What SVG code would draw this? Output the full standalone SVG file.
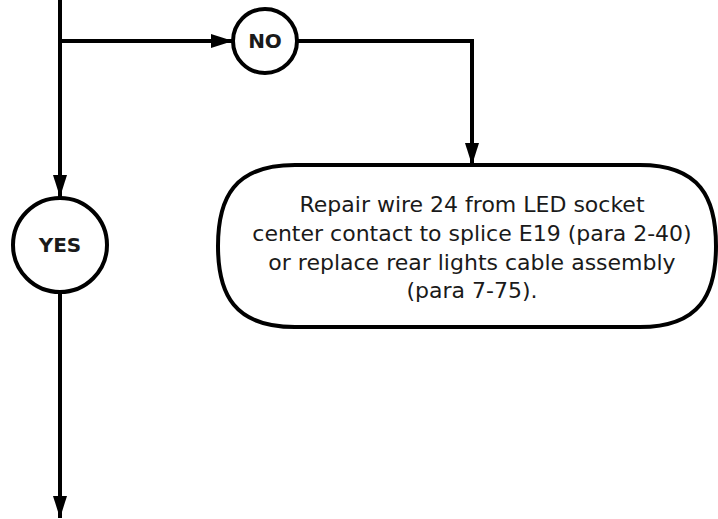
<svg xmlns="http://www.w3.org/2000/svg" width="718" height="519" viewBox="0 0 718 519">
<style>
.ln{fill:none;stroke:#000;stroke-width:4}
.nd{fill:#fff;stroke:#000;stroke-width:4}
.lb{font-family:"DejaVu Sans","Liberation Sans",sans-serif;font-weight:bold;font-size:20px;text-anchor:middle;fill:#1a1a1a}
.tx{font-family:"DejaVu Sans","Liberation Sans",sans-serif;font-size:22px;text-anchor:middle;fill:#1a1a1a}
</style>
<defs>
<marker id="ah" markerUnits="userSpaceOnUse" markerWidth="22" markerHeight="14" refX="22" refY="7" orient="auto">
<path d="M0,0 L22,7 L0,14 Z" fill="#000"/>
</marker>
</defs>
<g id="connectors">
<path class="ln" d="M60,0 V197" marker-end="url(#ah)"/>
<path class="ln" d="M60,41 H233" marker-end="url(#ah)"/>
<path class="ln" d="M297,41 H472 V165" marker-end="url(#ah)"/>
<path class="ln" d="M60,292 V518" marker-end="url(#ah)"/>
</g>
<g id="no">
<circle class="nd" cx="265" cy="41" r="32"/>
<text class="lb" x="265" y="48">NO</text>
</g>
<g id="yes">
<circle class="nd" cx="60" cy="245" r="47"/>
<text class="lb" x="60" y="252">YES</text>
</g>
<g id="repair">
<path class="nd" d="M295,165 H640 C700,165 716,198 716,246 C716,294 700,327 640,327 H295 C234,327 218,294 218,246 C218,198 234,165 295,165 Z"/>
<text class="tx" x="472" y="212">Repair wire 24 from LED socket</text>
<text class="tx" x="472" y="241">center contact to splice E19 (para 2-40)</text>
<text class="tx" x="472" y="270">or replace rear lights cable assembly</text>
<text class="tx" x="472" y="298">(para 7-75).</text>
</g>
</svg>
